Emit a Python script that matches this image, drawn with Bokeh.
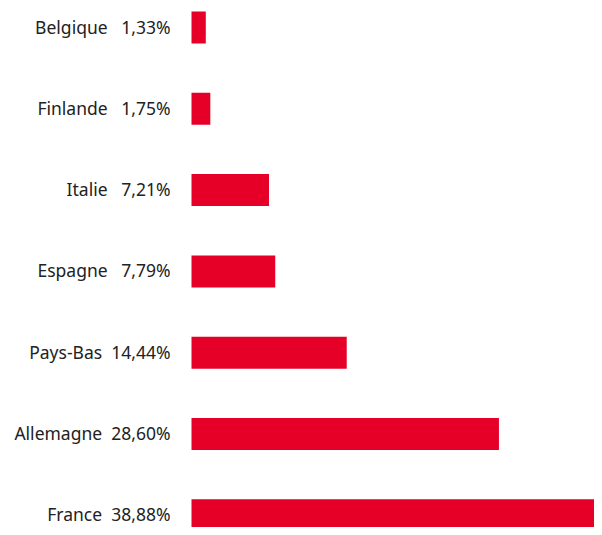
from bokeh.plotting import figure
from bokeh.models import ColumnDataSource, Range1d
from bokeh.core.properties import value
from bokeh.embed import file_html
from bokeh.resources import INLINE

countries = ["Belgique", "Finlande", "Italie", "Espagne", "Pays-Bas", "Allemagne", "France"]
values = [1.33, 1.75, 7.21, 7.79, 14.44, 28.60, 38.88]
value_labels = ["1,33%", "1,75%", "7,21%", "7,79%", "14,44%", "28,60%", "38,88%"]

rows = list(range(len(countries)))
labels = [c + ("\u00a0\u00a0" if len(v) > 5 else "\u00a0\u00a0\u00a0") + v
          for c, v in zip(countries, value_labels)]

src = ColumnDataSource(dict(y=rows, v=values, label=labels))

W, H = 594, 527
px_per = 10.75
x0 = 191
row_h = 81.3
top = 27
p = figure(width=W, height=H, output_backend="svg", toolbar_location=None,
           x_range=Range1d(-x0 / px_per, (W - x0) / px_per),
           y_range=Range1d((H - top) / row_h, -top / row_h),
           min_border=0)
p.axis.visible = False
p.grid.visible = False
p.outline_line_color = None
p.background_fill_color = "white"

p.hbar(y="y", left=0, right="v", height=32 / row_h, source=src,
       fill_color="#E60028", line_color=None)
p.text(x=0, y="y", text="label", source=src, x_offset=-21, y_offset=-1,
       text_align="right", text_baseline="middle",
       text_font=value("Noto Sans"), text_font_size="17.5px", text_color="#222222")

open("out.html", "w").write(file_html(p, INLINE))
